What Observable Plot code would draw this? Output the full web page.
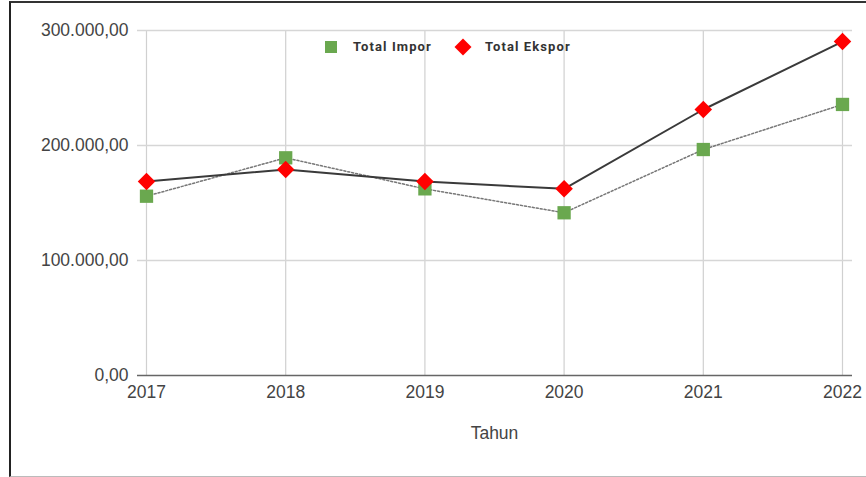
<!DOCTYPE html>
<html><head><meta charset="utf-8">
<script src="https://cdn.jsdelivr.net/npm/d3@7"></script>
<script src="https://cdn.jsdelivr.net/npm/@observablehq/plot@0.6"></script>
<style>
body{margin:0;background:#fff;font-family:Roboto,"Liberation Sans",Arial,sans-serif;}
#wrap{position:relative;width:866px;height:477px;overflow:hidden;}
#frame{position:absolute;left:9px;top:1px;width:900px;height:473px;border-left:2px solid #222;border-top:2px solid #333;border-bottom:1px solid #bbb;pointer-events:none;}
#legend{position:absolute;top:39px;left:325px;display:flex;align-items:center;font-size:13px;font-weight:bold;letter-spacing:1.1px;color:#333;}
#legend .sq{width:12px;height:12px;background:#6aa84f;display:inline-block;margin-right:16px;}
#legend .di{width:12px;height:12px;background:#ff0000;transform:rotate(45deg);display:inline-block;margin-left:25px;margin-right:16px;}
</style></head>
<body><div id="wrap"><div id="chart"></div><div id="frame"></div>
<div id="legend"><span class="sq"></span><span>Total Impor</span><span class="di"></span><span>Total Ekspor</span></div></div>
<script>
const years = [2017, 2018, 2019, 2020, 2021, 2022];
const impor = [155900, 189300, 162300, 141500, 196500, 235700];
const ekspor = [168700, 179100, 168700, 162300, 231300, 290400];
const yTicks = [0, 100000, 200000, 300000];
const seriesNames = ["Total Impor", "Total Ekspor"];
const xTitle = "Tahun";

const rowsImpor = years.map((y, i) => ({year: y, value: impor[i], series: seriesNames[0]}));
const rowsEkspor = years.map((y, i) => ({year: y, value: ekspor[i], series: seriesNames[1]}));
const idFmt = d3.formatLocale({decimal: ",", thousands: ".", grouping: [3], currency: ["", ""]}).format(",.2f");

const chart = Plot.plot({
  width: 866, height: 477,
  marginLeft: 146, marginRight: 24, marginTop: 30, marginBottom: 102,
  style: {fontFamily: "'Liberation Sans', Arial, sans-serif", fontSize: "17.5px", color: "#444", background: "transparent"},
  x: {domain: [2017, 2022]},
  y: {domain: [0, 300000]},
  marks: [
    Plot.ruleX(years, {stroke: "#d0d0d0", strokeWidth: 1.2}),
    Plot.ruleY(yTicks.filter(d => d > 0), {stroke: "#d6d6d6", strokeWidth: 1.5, insetLeft: -9, insetRight: -10}),
    Plot.ruleY([0], {stroke: "#666", strokeWidth: 1.5, insetLeft: -9, insetRight: -10}),
    Plot.axisY({ticks: yTicks, tickFormat: idFmt, tickSize: 0, tickPadding: 18, label: null, fontSize: 17.5}),
    Plot.axisX({ticks: years, tickFormat: d => String(d), tickSize: 0, tickPadding: 10, label: null, fontSize: 17.5}),
    Plot.text([xTitle], {frameAnchor: "bottom", dy: 63, fontSize: 17.5, fill: "#444"}),
    Plot.line(rowsImpor, {x: "year", y: "value", stroke: "#777", strokeWidth: 1.5, strokeDasharray: "2,2"}),
    Plot.dot(rowsImpor, {x: "year", y: "value", symbol: "square", r: 7.5, fill: "#6aa84f", stroke: "none"}),
    Plot.line(rowsEkspor, {x: "year", y: "value", stroke: "#3a3a3a", strokeWidth: 2}),
    Plot.dot(rowsEkspor, {x: "year", y: "value", symbol: "diamond2", r: 7.9, fill: "#ff0000", stroke: "none"})
  ]
});
document.getElementById("chart").appendChild(chart);
</script></body></html>
